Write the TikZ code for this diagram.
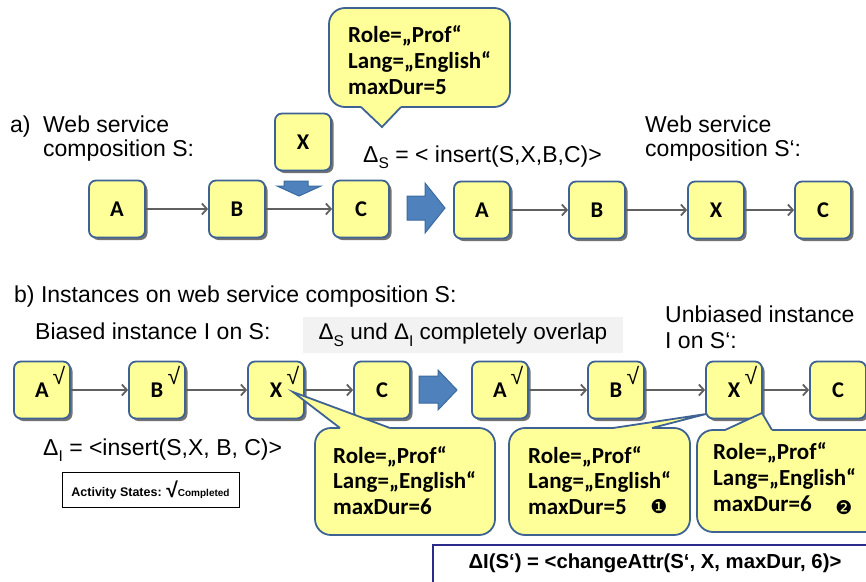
\documentclass[tikz,border=0pt]{standalone}
\usepackage{fontspec}
\setmainfont{Liberation Sans}
\newfontfamily\boxfont{Carlito}
\newfontfamily\symfont{DejaVu Sans}
\usetikzlibrary{arrows.meta,shadows}
\definecolor{boxfill}{HTML}{FFFF99}
\definecolor{boxborder}{HTML}{3D6293}
\definecolor{arrowfill}{HTML}{4F81BD}
\definecolor{arrowborder}{HTML}{3A6A9E}
\definecolor{linkgray}{HTML}{606060}
\definecolor{navyline}{HTML}{2A2A8C}
\definecolor{overlapgray}{HTML}{F2F2F2}
\newcommand\lowidx[1]{\raisebox{-0.3em}{\fontsize{15.5}{15.5}\selectfont #1}}
\newcommand\bubtext[6]{%
  \node[bubtxt] (#1a) at (#2,#3) {Role=„Prof“};
  \node[bubtxt] (#1b) at (#2,#3+#4) {Lang=„English“};
  \node[bubtxt] (#1c) at (#2,#3+2*#4) {#5};
  #6}
\begin{document}
\begin{tikzpicture}[x=1pt,y=-1pt,
  act/.style={draw=boxborder, fill=boxfill, line width=1.8pt, rounded corners=7pt,
    minimum width=56pt, minimum height=57pt, inner sep=0pt,
    drop shadow={shadow xshift=2.5pt, shadow yshift=-2.5pt, fill=black!55, opacity=1},
    font=\boxfont\bfseries\fontsize{22.5}{22.5}\selectfont},
  chk/.style={inner sep=0pt, font=\fontsize{23}{23}\selectfont},
  link/.style={draw=linkgray, line width=1.8pt, -{Straight Barb[length=5pt,width=11pt]}},
  blockarrow/.style={fill=arrowfill, draw=arrowborder, line width=1pt, line join=miter},
  bub/.style={draw=boxborder, fill=boxfill, line width=1.8pt, rounded corners=16pt},
  bubline/.style={draw=boxborder, line width=1.8pt, line join=miter},
  bubtxt/.style={anchor=base west, inner sep=0pt, font=\boxfont\bfseries\fontsize{23}{23}\selectfont},
  lbl/.style={anchor=base west, inner sep=0pt, font=\fontsize{23}{23}\selectfont},
  numdot/.style={font=\symfont\fontsize{19}{19}\selectfont, inner sep=0pt}
]
\useasboundingbox (0,0) rectangle (866,581);

% ---------- part a: labels ----------
\node[lbl] (alab) at (10,132) {a)};
\node[lbl] (aweb) at (43,132) {Web service};
\node[lbl] (acomp) at (43,156) {composition S:};
\node[lbl] (bweb) at (645,132) {Web service};
\node[lbl] (bcomp) at (645,156) {composition S‘:};
\node[lbl] (deltaS) at (363,162) {Δ\lowidx{S} = < insert(S,X,B,C)>};

% ---------- part a: composition S ----------
\node[act] (A) at (117,209) {A};
\node[act] (B) at (237,209) {B};
\node[act] (C) at (361,209) {C};
\node[act] (Xn) at (303,142) {X};
\draw[link] (A) -- (B);
\draw[link] (B) -- (C);
\draw[blockarrow] (284,181) -- (308,181) -- (308,186) -- (321,186) -- (299,196) -- (277,186) -- (284,186) -- cycle;

% change transforms S into S'
\draw[blockarrow] (407,196) -- (425,196) -- (425,183) -- (445,208) -- (425,233) -- (425,220) -- (407,220) -- cycle;

% ---------- part a: composition S' ----------
\node[act] (A1) at (482,210) {A};
\node[act] (B1) at (597,210) {B};
\node[act] (X1) at (716,210) {X};
\node[act] (C1) at (823,210) {C};
\draw[link] (A1) -- (B1);
\draw[link] (B1) -- (X1);
\draw[link] (X1) -- (C1);

% attribute callout of the inserted activity
\draw[bub] (329,8) rectangle (510,107);
\fill[boxfill] (361,103) -- (361,107) -- (382,127) -- (401,107) -- (401,103) -- cycle;
\draw[bubline] (361,107) -- (382,127) -- (401,107);
\bubtext{ta}{348}{42}{26}{maxDur=5}{}

% ---------- part b: labels ----------
\node[lbl] (blab) at (14,302) {b) Instances on web service composition S:};
\node[lbl] (biased) at (35,339) {Biased instance I on S:};
\node[fill=overlapgray, minimum width=320pt, minimum height=36pt, inner sep=0pt,
  font=\fontsize{22.5}{22.5}\selectfont] (ovl) at (463,335)
  {Δ\lowidx{S} und Δ\lowidx{I} completely overlap};
\node[lbl] (unb1) at (665,322) {Unbiased instance};
\node[lbl] (unb2) at (665,348) {I on S‘:};
\node[lbl] (deltaI) at (43,455) {Δ\lowidx{I} = <insert(S,X, B, C)>};

% legend of activity states
\node[draw=black, line width=0.8pt, minimum width=177pt, minimum height=35pt, inner sep=0pt] (legend) at (150.5,489.5)
  {\bfseries\fontsize{12.5}{12.5}\selectfont Activity States: \raisebox{-1pt}{\fontsize{21}{21}\selectfont √}\fontsize{10}{10}\selectfont Completed};

% ---------- part b: biased instance I on S ----------
\node[act] (A2) at (42,390) {A};
\node[act] (B2) at (157,390) {B};
\node[act] (X2) at (276,390) {X};
\node[act] (C2) at (382,390) {C};
\node[chk] (A2c) at ([shift={(17,-15)}]A2.center) {√};
\node[chk] (B2c) at ([shift={(17,-15)}]B2.center) {√};
\node[chk] (X2c) at ([shift={(17,-15)}]X2.center) {√};
\draw[link] (A2) -- (B2);
\draw[link] (B2) -- (X2);
\draw[link] (X2) -- (C2);

% migration of I onto S'
\draw[blockarrow] (419,376) -- (438,376) -- (438,370) -- (457,390) -- (438,410) -- (438,403) -- (419,403) -- cycle;

% ---------- part b: unbiased instance I on S' ----------
\node[act] (A3) at (500,390) {A};
\node[act] (B3) at (616,390) {B};
\node[act] (X3) at (734,390) {X};
\node[act] (C3) at (838,390) {C};
\node[chk] (A3c) at ([shift={(17,-15)}]A3.center) {√};
\node[chk] (B3c) at ([shift={(17,-15)}]B3.center) {√};
\node[chk] (X3c) at ([shift={(17,-15)}]X3.center) {√};
\draw[link] (A3) -- (B3);
\draw[link] (B3) -- (X3);
\draw[link] (X3) -- (C3);

% callout of X in the biased instance
\draw[bub] (315,428) rectangle (495,535);
\fill[boxfill] (340,432) -- (340,428) -- (293,392) -- (390,428) -- (390,432) -- cycle;
\draw[bubline] (340,428) -- (293,392) -- (390,428);
\bubtext{ba}{333}{463}{25.5}{maxDur=6}{}

% callout of X in S' (attribute from the schema)
\draw[bub] (509,428) rectangle (690,535);
\fill[boxfill] (613,432) -- (613,428) -- (706,414) -- (652,428) -- (652,432) -- cycle;
\draw[bubline] (613,428) -- (706,414) -- (652,428);
\bubtext{bb}{528}{463}{25.5}{maxDur=5}{\node[numdot] (one) at (659,507) {❶};}

% callout of X in S' (attribute kept from the instance)
\draw[bub] (697,430) rectangle (885,532);
\fill[boxfill] (725,434) -- (725,430) -- (762,413) -- (772,430) -- (772,434) -- cycle;
\draw[bubline] (725,430) -- (762,413) -- (772,430);
\bubtext{bc}{713}{459}{26}{maxDur=6}{\node[numdot] (two) at (844,508) {❷};}

% instance-specific change on S'
\draw[navyline, line width=2pt] (433,545) rectangle (880,600);
\node[inner sep=0pt, font=\bfseries\fontsize{20.3}{20.3}\selectfont] (deltaIS) at (655,563) {ΔI(S‘) = <changeAttr(S‘, X, maxDur, 6)>};
\end{tikzpicture}
\end{document}
